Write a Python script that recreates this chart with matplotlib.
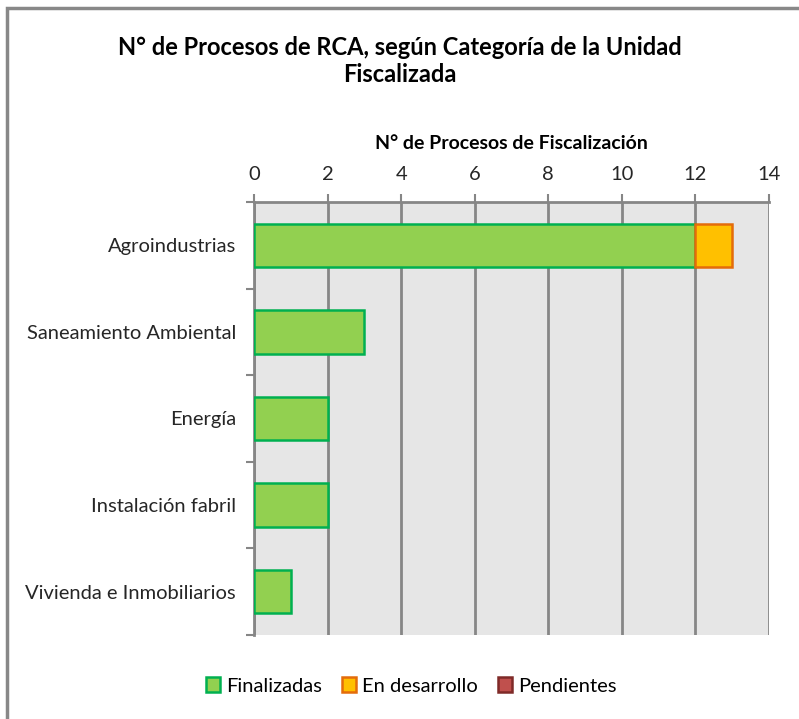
"""N° de procesos de RCA por categoria - barras horizontales apiladas"""
import matplotlib
matplotlib.use("Agg")
import matplotlib.pyplot as plt
from matplotlib.patches import Rectangle
import numpy as np

plt.rcParams['font.family'] = ['Lato', 'DejaVu Sans']

categorias = ['Agroindustrias', 'Saneamiento Ambiental', 'Energía',
              'Instalación fabril', 'Vivienda e Inmobiliarios']
finalizadas = [12, 3, 2, 2, 1]
en_desarrollo = [1, 0, 0, 0, 0]
pendientes = [0, 0, 0, 0, 0]
xticks = [0, 2, 4, 6, 8, 10, 12, 14]

GRID = '#868686'
FS = 14.5

fig = plt.figure(figsize=(7.99, 7.19), dpi=100)
ax = fig.add_axes([254 / 799, 1 - 635 / 719, 515 / 799, 433 / 719])
ax.set_facecolor('#E6E6E6')

y = np.arange(len(categorias))
left = np.zeros(len(categorias))
series = [
  ('Finalizadas', finalizadas, '#92D050', '#00B050'),
  ('En desarrollo', en_desarrollo, '#FFC000', '#E46C0A'),
  ('Pendientes', pendientes, '#C0504D', '#7F2A28'),
]
handles = []
for name, vals, fc, ec in series:
  vals = np.array(vals, dtype=float)
  mask = vals > 0
  ax.barh(y[mask], vals[mask], left=left[mask], height=0.5, color=fc,
          edgecolor=ec, linewidth=1.8, zorder=3)
  left += vals
  handles.append(Rectangle((0, 0), 1, 1, facecolor=fc, edgecolor=ec, linewidth=1.8))

ax.set_xlim(0, 14)
ax.set_ylim(len(categorias) - 0.5, -0.5)
ax.xaxis.tick_top()
ax.xaxis.set_label_position('top')
ax.set_xticks(xticks)
ax.set_xticklabels([str(t) for t in xticks], fontsize=FS, color='#262626')
ax.set_xlabel('N° de Procesos de Fiscalización', fontsize=14, fontweight='bold',
              labelpad=12)
ax.tick_params(axis='x', length=6, width=1.5, color=GRID, pad=8)

ax.set_yticks(y)
ax.set_yticklabels(categorias, fontsize=FS, color='#262626')
ax.set_yticks(np.arange(-0.5, len(categorias)), minor=True)
ax.tick_params(axis='y', which='major', length=0, pad=13)
ax.tick_params(axis='y', which='minor', length=6, width=1.5, color=GRID)

ax.grid(axis='x', color=GRID, linewidth=2, zorder=1)
for s in ['bottom', 'right']:
  ax.spines[s].set_visible(False)
for s in ['top', 'left']:
  ax.spines[s].set_color(GRID)
  ax.spines[s].set_linewidth(2)

fig.text(0.5, 1 - 61 / 719, 'N° de Procesos de RCA, según Categoría de la Unidad\nFiscalizada',
         ha='center', va='center', fontsize=17, fontweight='bold', linespacing=1.2)

fig.legend(handles, [s[0] for s in series], loc='center', ncol=3,
           bbox_to_anchor=(0.515, 1 - 686 / 719), frameon=False, fontsize=FS,
           handlelength=0.7, handleheight=0.7, handletextpad=0.3, columnspacing=1.0)

# marco del grafico
fig.patches.append(Rectangle((7 / 799, -0.1), 1.2, 1 - 8 / 719 + 0.1,
                             transform=fig.transFigure, fill=False,
                             edgecolor='#888888', linewidth=2.5))

plt.savefig('out.png', dpi=100)
